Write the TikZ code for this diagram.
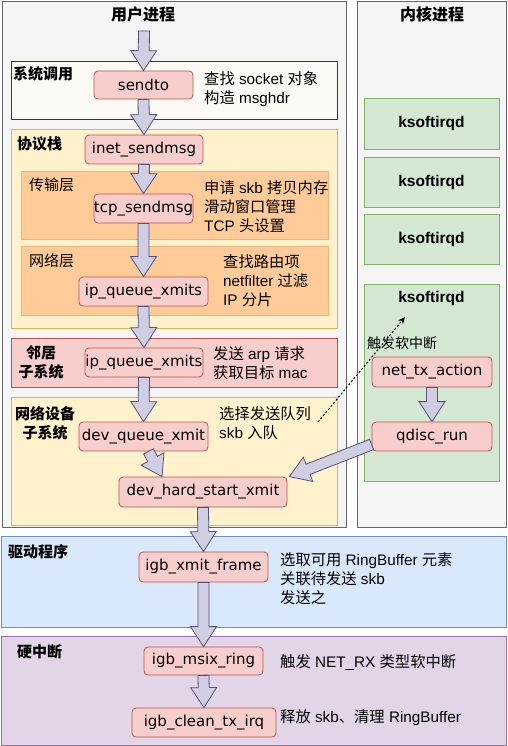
\documentclass[tikz,border=0pt]{standalone}
\usepackage{fontspec}
\setmainfont{Liberation Sans}
\newfontfamily\cjk{Noto Sans CJK SC}
\newfontfamily\codefont{DejaVu Sans}
\usetikzlibrary{calc,arrows.meta}
\definecolor{panelF}{HTML}{F5F5F5}\definecolor{panelD}{HTML}{666666}
\definecolor{sysF}{HTML}{FBFAF4}\definecolor{sysD}{HTML}{36393D}
\definecolor{yelF}{HTML}{FFF2CC}\definecolor{yelD}{HTML}{D6B656}
\definecolor{oraF}{HTML}{FFCC99}\definecolor{oraD}{HTML}{EDB47C}
\definecolor{redF}{HTML}{F8CECC}\definecolor{redD}{HTML}{B85450}
\definecolor{grnF}{HTML}{D5E8D4}\definecolor{grnD}{HTML}{82B366}
\definecolor{bluF}{HTML}{DAE8FC}\definecolor{bluD}{HTML}{6C8EBF}
\definecolor{purF}{HTML}{E1D5E7}\definecolor{purD}{HTML}{9673A6}
\definecolor{arrF}{HTML}{D0CEE2}\definecolor{arrD}{HTML}{56517E}
\newcommand\zh[1]{{\cjk #1}}
\newcommand\flexarrow[2]{%
  \coordinate (fa-s) at (#1);
  \coordinate (fa-e) at (#2);
  \coordinate (fa-c) at ($(fa-e)!20pt!(fa-s)$);
  \draw[flexstyle] ($(fa-s)!5.5pt!90:(fa-e)$) -- ($(fa-c)!5.5pt!90:(fa-e)$) -- ($(fa-c)!13pt!90:(fa-e)$)
    -- (fa-e) -- ($(fa-c)!13pt!-90:(fa-e)$) -- ($(fa-c)!5.5pt!-90:(fa-e)$) -- ($(fa-s)!5.5pt!-90:(fa-e)$) -- cycle;}
\begin{document}
\begin{tikzpicture}[x=1pt,y=-1pt,
  flexstyle/.style={fill=arrF,draw=arrD,line width=0.8pt,line join=miter},
  grp/.style={draw=#1D,fill=#1F,line width=0.8pt},
  code/.style={rectangle,rounded corners=4pt,fill=redF,draw=redD,line width=0.8pt,inner sep=0pt,
    font=\codefont\fontsize{15}{18}\selectfont},
  lbl/.style={inner sep=0pt,font=\cjk\bfseries\fontsize{15}{19}\selectfont,align=center},
  lblr/.style={inner sep=0pt,font=\cjk\fontsize{15}{19}\selectfont},
  note/.style={inner sep=0pt,anchor=west,align=left,font=\fontsize{15.3}{19}\selectfont},
  ks/.style={inner sep=0pt,font=\bfseries\fontsize{15.5}{18}\selectfont}]
\useasboundingbox (0,0) rectangle (507,746);
% panels
\draw[grp=panel] (2,1) rectangle (346,527);
\draw[grp=panel] (357,1) rectangle (506,527);
% groups
\draw[grp=sys] (11,61) rectangle (337,119);
\draw[grp=yel] (11,129) rectangle (337,328);
\draw[grp=ora] (21,171) rectangle (328,239);
\draw[grp=ora] (21,246) rectangle (328,315);
\draw[grp=red] (11,338) rectangle (337,387);
\draw[grp=yel] (11,397) rectangle (337,525);
\draw[grp=grn] (364,98) rectangle (499,149);
\draw[grp=grn] (364,157) rectangle (499,207);
\draw[grp=grn] (364,214) rectangle (499,264);
\draw[grp=grn] (364,284) rectangle (499,481);
\draw[grp=blu] (1,536) rectangle (506,627);
\draw[grp=pur] (1,636) rectangle (506,745);
% titles and labels
\node[lbl,font=\cjk\bfseries\fontsize{16}{19}\selectfont] (t1) at (143,14) {用户进程};
\node[lbl,font=\cjk\bfseries\fontsize{16}{19}\selectfont] (t2) at (432,14) {内核进程};
\node[lbl,anchor=west] (l1) at (13,74) {系统调用};
\node[lbl,anchor=west] (l2) at (17,144) {协议栈};
\node[lblr,anchor=west] (l3) at (29,185) {传输层};
\node[lblr,anchor=west] (l4) at (29,261) {网络层};
\node[lbl] (l5) at (41,362) {邻居\\子系统};
\node[lbl] (l6) at (45,423) {网络设备\\子系统};
\node[lbl,anchor=west] (l7) at (8,552) {驱动程序};
\node[lbl,anchor=west] (l8) at (17,652) {硬中断};
\node[ks] (k1) at (431.5,123) {ksoftirqd};
\node[ks] (k2) at (431.5,182) {ksoftirqd};
\node[ks] (k3) at (431.5,239) {ksoftirqd};
\node[ks] (k4) at (431.5,298) {ksoftirqd};
% code nodes
\node[code,minimum width=99,minimum height=28] (sendto) at (143.5,85) {sendto};
\node[code,minimum width=118,minimum height=29] (inet) at (144,149.5) {inet\_sendmsg};
\node[code,minimum width=99,minimum height=29] (tcp) at (143.5,208.5) {tcp\_sendmsg};
\node[code,minimum width=129,minimum height=29] (ipq) at (143.5,291.5) {ip\_queue\_xmits};
\node[code,minimum width=118,minimum height=29] (ipq2) at (144,362.5) {ip\_queue\_xmits};
\node[code,minimum width=129,minimum height=29] (devq) at (143.5,436.5) {dev\_queue\_xmit};
\node[code,minimum width=168,minimum height=30] (dhsx) at (203,492) {dev\_hard\_start\_xmit};
\node[code,minimum width=129,minimum height=30] (igbx) at (203.5,567) {igb\_xmit\_frame};
\node[code,minimum width=119,minimum height=28] (msix) at (203.5,661) {igb\_msix\_ring};
\node[code,minimum width=144,minimum height=29] (clean) at (204,722.5) {igb\_clean\_tx\_irq};
\node[code,minimum width=120,minimum height=30] (ntx) at (432,372) {net\_tx\_action};
\node[code,minimum width=120,minimum height=29] (qdisc) at (432,436.5) {qdisc\_run};
% notes
\node[note] (n1) at (204,89.5) {\zh{查找} socket \zh{对象}\\\zh{构造} msghdr};
\node[note] (n2) at (204,207) {\zh{申请} skb \zh{拷贝内存}\\\zh{滑动窗口管理}\\TCP \zh{头设置}};
\node[note] (n3) at (223,281) {\zh{查找路由项}\\netfilter \zh{过滤}\\IP \zh{分片}};
\node[note] (n4) at (213,363) {\zh{发送} arp \zh{请求}\\\zh{获取目标} mac};
\node[note] (n5) at (219,423) {\zh{选择发送队列}\\skb \zh{入队}};
\node[note] (n6) at (280,579) {\zh{选取可用} RingBuffer \zh{元素}\\\zh{关联待发送} skb\\\zh{发送之}};
\node[note] (n7) at (280,663) {\zh{触发} NET\_RX \zh{类型软中断}};
\node[note] (n8) at (280,718) {\zh{释放} skb\zh{、清理} RingBuffer};
% flex arrows
\coordinate (topstart) at (144,31);
\flexarrow{topstart}{sendto.north}
\flexarrow{sendto.south}{inet.north}
\flexarrow{inet.south}{tcp.north}
\flexarrow{tcp.south}{ipq.north}
\flexarrow{ipq.south}{ipq2.north}
\flexarrow{ipq2.south}{devq.north}
\flexarrow{$(devq.south)+(5,0)$}{$(dhsx.north)+(-41,0)$}
\flexarrow{dhsx.south}{igbx.north}
\flexarrow{igbx.south}{msix.north}
\flexarrow{msix.south}{clean.north}
\flexarrow{ntx.south}{qdisc.north}
\flexarrow{$(qdisc.west)+(0,8)$}{$(dhsx.north east)+(2,0)$}
% dotted trigger
\coordinate (dotS) at (318,422);
\coordinate (dotE) at (405,317);
\draw[dash pattern=on 2pt off 2pt,line width=1pt,-{Stealth[length=7pt,width=6pt]}] (dotS) -- (dotE);
\node[lblr,font=\cjk\fontsize{14}{17}\selectfont] (trig) at (402,343) {触发软中断};
\end{tikzpicture}
\end{document}
